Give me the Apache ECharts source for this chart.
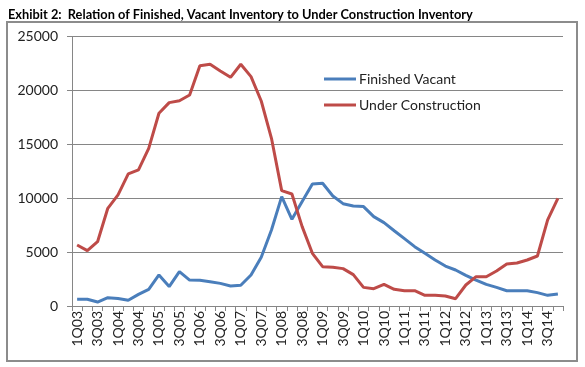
<!DOCTYPE html>
<html><head><meta charset="utf-8">
<script src="https://cdn.jsdelivr.net/npm/echarts@6/dist/echarts.min.js"></script>
<style>html,body{margin:0;padding:0;background:#fff}#c{width:585px;height:367px}</style>
</head><body><div id="c"></div>
<script>
const quarters = [];
for (let y = 3; y <= 14; y++) for (let q = 1; q <= 4; q++) quarters.push(q + 'Q' + String(y).padStart(2, '0'));
const finishedVacant = [620,620,370,770,700,530,1080,1550,2880,1800,3190,2410,2380,2260,2100,1860,1920,2880,4520,7060,10150,8050,9690,11330,11390,10210,9500,9290,9230,8300,7740,6990,6250,5510,4890,4270,3710,3340,2850,2410,2010,1730,1420,1420,1420,1240,990,1110];
const underConstruction = [5660,5140,5970,9070,10310,12260,12630,14640,17890,18880,19060,19590,22310,22440,21820,21230,22440,21290,19030,15570,10710,10400,7370,4890,3650,3590,3470,2910,1730,1610,2010,1550,1420,1420,990,990,930,680,1950,2720,2720,3250,3900,3990,4270,4640,7990,10000];
const yTicks = [0,5000,10000,15000,20000,25000];
const FONT = 'Lato';
const chart = echarts.init(document.getElementById('c'), null, {renderer:'canvas'});
chart.setOption({
  animation:false,
  backgroundColor:'#fff',
  textStyle:{fontFamily:FONT},
  title:{text:'Exhibit 2:  Relation of Finished, Vacant Inventory to Under Construction Inventory',left:3,top:3,
    textStyle:{fontFamily:FONT,fontWeight:'bold',fontSize:12.8,color:'#000'}},
  graphic:[{type:'rect',shape:{x:7,y:22,width:570,height:339},style:{fill:'none',stroke:'#8c8c8c',lineWidth:2},silent:true}],
  legend:{orient:'vertical',left:319,top:67,itemWidth:32,itemHeight:3,itemGap:12,icon:'rect',
    textStyle:{fontFamily:FONT,fontSize:14,color:'#222',padding:[0,0,0,-2]},
    data:['Finished Vacant','Under Construction']},
  grid:{left:72,right:22,top:36.7,bottom:61},
  xAxis:{type:'category',data:quarters,boundaryGap:true,
    axisLine:{lineStyle:{color:'#868686',width:1}},
    axisTick:{show:true,interval:0,length:5,lineStyle:{color:'#868686'}},
    axisLabel:{interval:1,rotate:90,fontFamily:FONT,fontSize:14,color:'#222',margin:5}},
  yAxis:{type:'value',min:yTicks[0],max:yTicks[yTicks.length-1],interval:5000,
    axisLine:{show:true,lineStyle:{color:'#868686'}},
    axisTick:{show:true,length:5,lineStyle:{color:'#868686'}},
    splitLine:{lineStyle:{color:'#868686',width:1}},
    axisLabel:{fontFamily:FONT,fontSize:14,color:'#222',margin:14,formatter:v=>String(v)}},
  series:[
    {name:'Finished Vacant',type:'line',data:finishedVacant,showSymbol:false,symbol:'none',lineStyle:{color:'#4a7ebb',width:3},itemStyle:{color:'#4a7ebb'}},
    {name:'Under Construction',type:'line',data:underConstruction,showSymbol:false,symbol:'none',lineStyle:{color:'#be4b48',width:3},itemStyle:{color:'#be4b48'}}
  ]
});
</script></body></html>
